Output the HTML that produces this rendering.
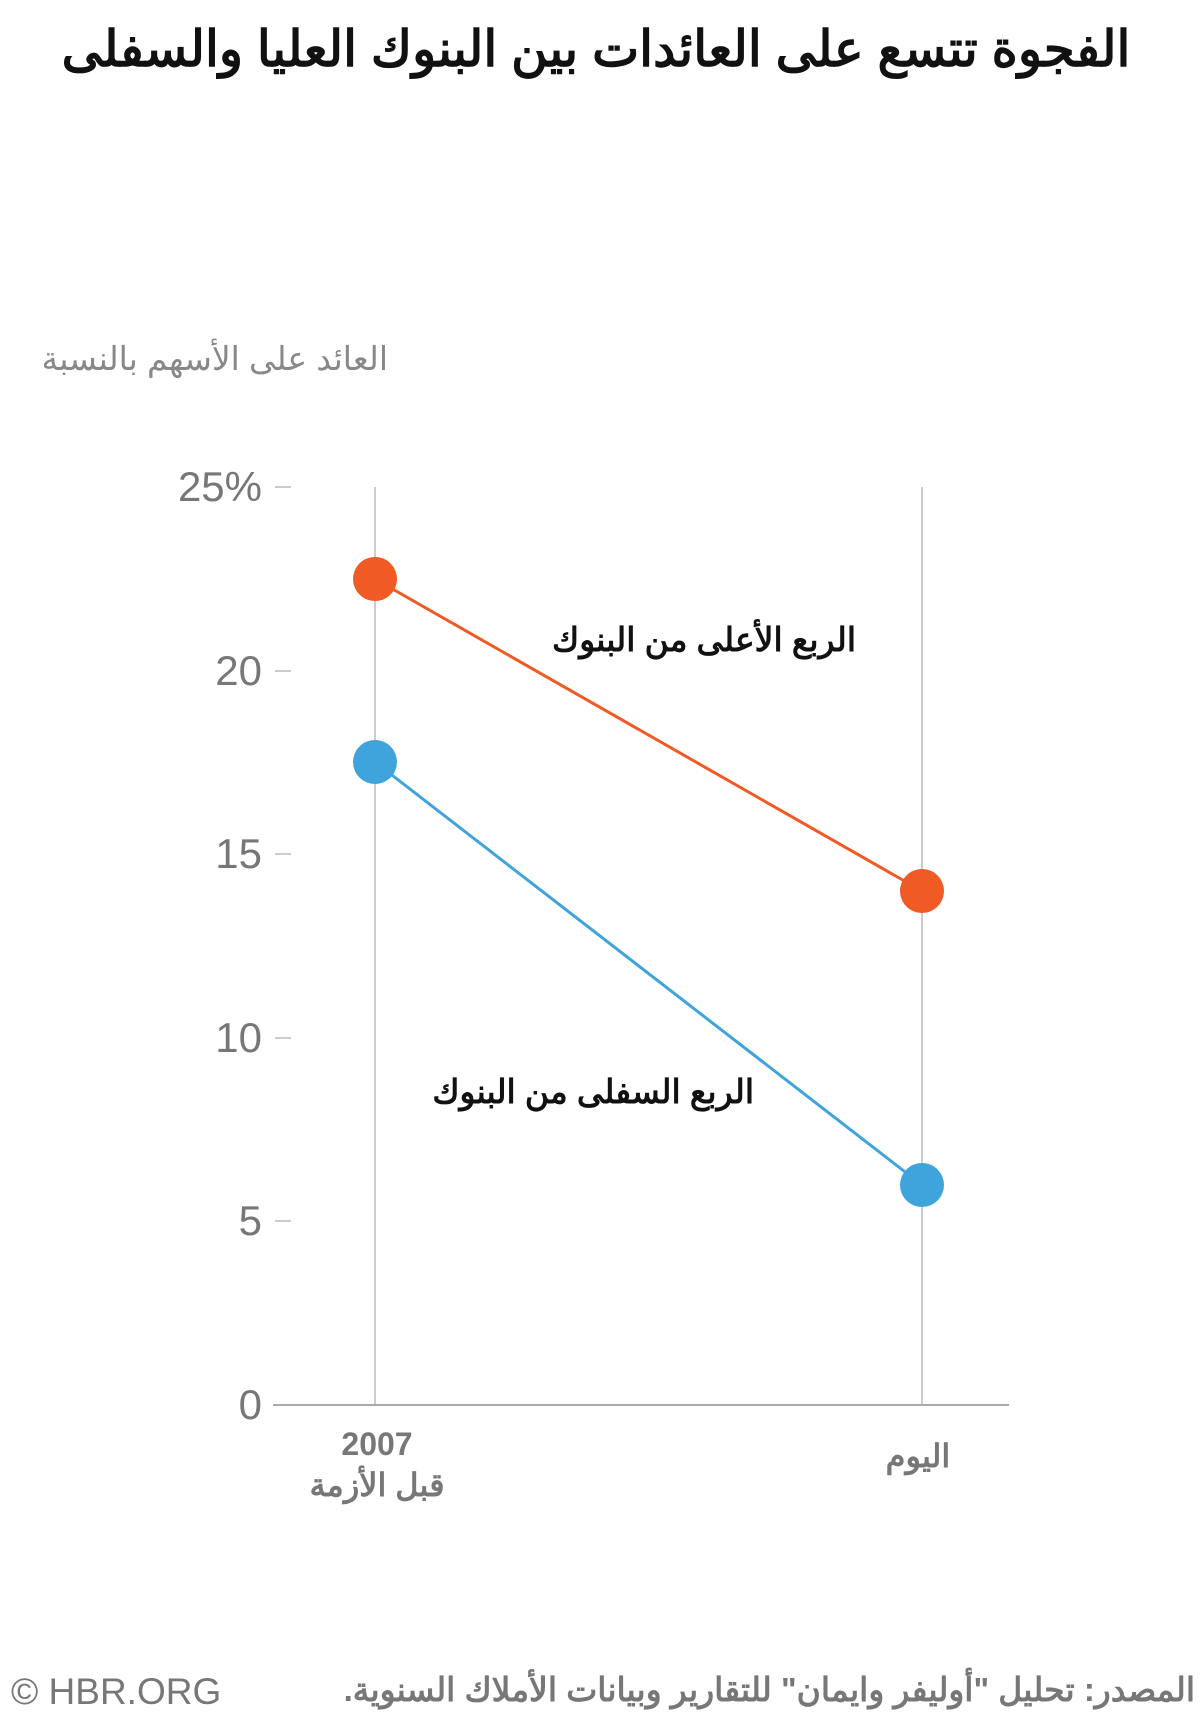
<!DOCTYPE html>
<html><head><meta charset="utf-8"><style>
body{margin:0;background:#fff;}
svg text{font-family:"Liberation Sans","Noto Sans CJK SC",sans-serif;}
</style></head><body>
<svg width="1200" height="1711" xmlns="http://www.w3.org/2000/svg">
<text x="596" y="66" text-anchor="middle" font-size="50" font-weight="bold" fill="#111" direction="rtl">الفجوة تتسع على العائدات بين البنوك العليا والسفلى</text>
<text x="388" y="370" text-anchor="start" font-size="33" fill="#888" direction="rtl">العائد على الأسهم بالنسبة</text>
<g stroke="#bbb" stroke-width="1.5">
<line x1="375" y1="487" x2="375" y2="1405"/>
<line x1="922" y1="487" x2="922" y2="1405"/>
<line x1="275" y1="487" x2="291" y2="487"/>
<line x1="275" y1="671" x2="291" y2="671"/>
<line x1="275" y1="854" x2="291" y2="854"/>
<line x1="275" y1="1038" x2="291" y2="1038"/>
<line x1="275" y1="1221" x2="291" y2="1221"/>
</g>
<line x1="273" y1="1405" x2="1009" y2="1405" stroke="#aaa" stroke-width="2"/>
<g font-size="42" fill="#777" text-anchor="end">
<text x="262" y="501">25%</text>
<text x="262" y="685">20</text>
<text x="262" y="868">15</text>
<text x="262" y="1052">10</text>
<text x="262" y="1235">5</text>
<text x="262" y="1419">0</text>
</g>
<line x1="375" y1="579" x2="922" y2="891" stroke="#f05a24" stroke-width="3"/>
<line x1="375" y1="762" x2="922" y2="1185" stroke="#3fa4dc" stroke-width="3"/>
<circle cx="375" cy="579" r="22" fill="#f05a24"/>
<circle cx="922" cy="891" r="22" fill="#f05a24"/>
<circle cx="375" cy="762" r="22" fill="#3fa4dc"/>
<circle cx="922" cy="1185" r="22" fill="#3fa4dc"/>
<text x="856" y="651" text-anchor="start" font-size="33" font-weight="bold" fill="#111" direction="rtl">الربع الأعلى من البنوك</text>
<text x="754" y="1103" text-anchor="start" font-size="33" font-weight="bold" fill="#111" direction="rtl">الربع السفلى من البنوك</text>
<g font-size="32" fill="#777" text-anchor="middle" font-weight="bold">
<text x="377" y="1455">2007</text>
<text x="377" y="1496" direction="rtl">قبل الأزمة</text>
<text x="918" y="1467" direction="rtl">اليوم</text>
</g>
<text x="11" y="1704" font-size="37" fill="#777">© HBR.ORG</text>
<text x="1195" y="1701" text-anchor="start" font-size="33" font-weight="bold" fill="#777" direction="rtl">المصدر: تحليل "أوليفر وايمان" للتقارير وبيانات الأملاك السنوية.</text>
</svg>
</body></html>
